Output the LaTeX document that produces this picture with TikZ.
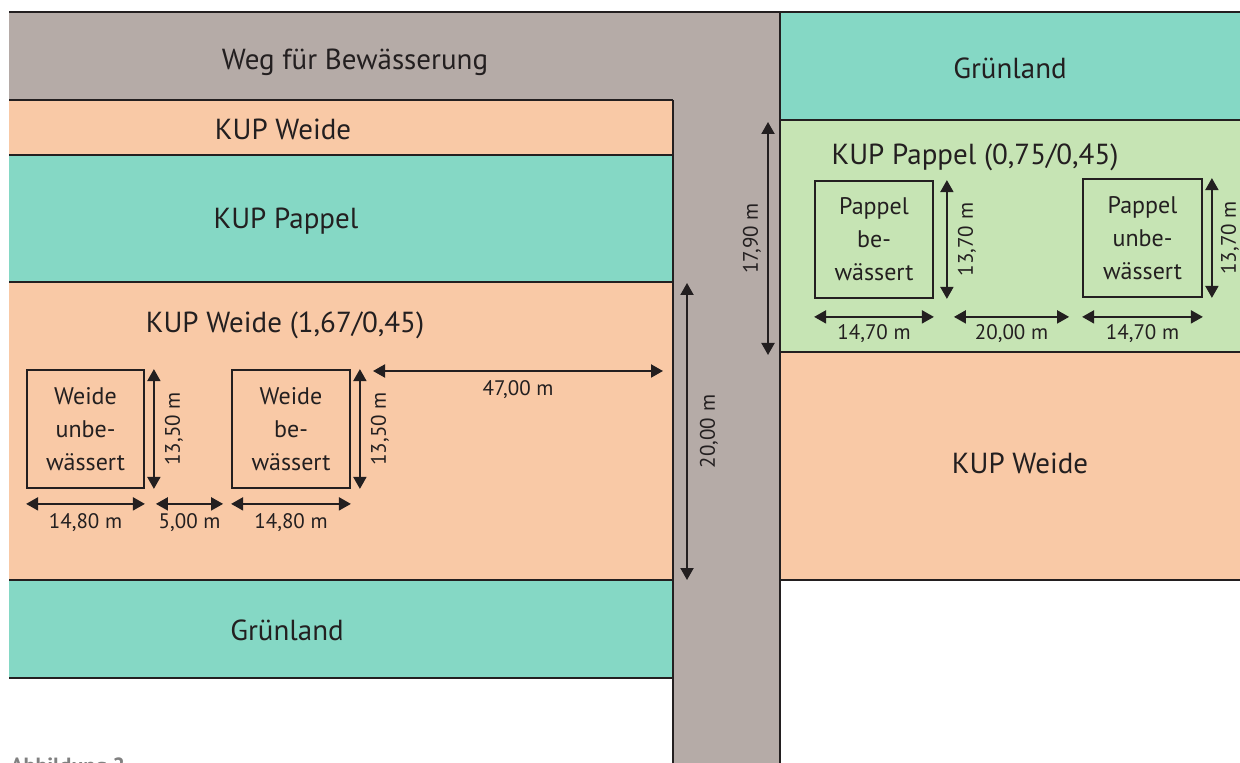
\documentclass[tikz,border=0pt]{standalone}
\usepackage{fontspec}
\setmainfont{PT Sans}
\usetikzlibrary{arrows.meta}

\definecolor{wegfarbe}{HTML}{B5ABA7}
\definecolor{weidefarbe}{HTML}{F9C9A6}
\definecolor{pappelfarbe}{HTML}{85D8C5}
\definecolor{hellgruen}{HTML}{C6E4B4}
\definecolor{strich}{HTML}{231F20}

\tikzset{
  grenze/.style={line width=1.3pt, draw=strich},
  parzelle/.style={draw=strich, line width=0.9pt, align=center, text=strich,
    font=\fontsize{12}{16.5}\selectfont, inner sep=0pt},
  mass/.style={{Triangle[length=6pt,width=6.5pt]}-{Triangle[length=6pt,width=6.5pt]},
    line width=1pt, draw=strich},
  masstext/.style={font=\fontsize{10.5}{12}\selectfont, text=strich, inner sep=1pt},
  flaeche/.style={font=\fontsize{14.5}{17}\selectfont, text=strich},
}

\begin{document}
\begin{tikzpicture}[x=0.5pt,y=-0.5pt]
\useasboundingbox (0,0) rectangle (1240,763);

% Weg
\fill[wegfarbe] (9,12) -- (780,12) -- (780,763) -- (673,763) -- (673,100) -- (9,100) -- cycle;

% Streifen links
\fill[weidefarbe] (9,100) rectangle (673,155);
\fill[pappelfarbe] (9,155) rectangle (673,282);
\fill[weidefarbe] (9,282) rectangle (673,580);
\fill[pappelfarbe] (9,580) rectangle (673,678);

% Streifen rechts
\fill[pappelfarbe] (780,12) rectangle (1240,120);
\fill[hellgruen] (780,120) rectangle (1240,352);
\fill[weidefarbe] (780,352) rectangle (1240,580);

% Grenzen
\draw[grenze] (9,12) -- (1240,12);
\draw[grenze] (673,763) -- (673,100);
\draw[grenze] (780,763) -- (780,12);
\foreach \y in {100,155,282,580,678}
  \draw[grenze] (9,\y) -- (673,\y);
\foreach \y in {120,352,580}
  \draw[grenze] (780,\y) -- (1240,\y);

% Beschriftung
\node[flaeche] (weg) at (355,62) {Weg für Bewässerung};
\node[flaeche] (weide1) at (283,129) {KUP Weide};
\node[flaeche] (pappel1) at (286,221) {KUP Pappel};
\node[flaeche] (weide2) at (285,325) {KUP Weide (1,67/0,45)};
\node[flaeche] (gruen1) at (287,630) {Grünland};
\node[flaeche] (gruen2) at (1010,68) {Grünland};
\node[flaeche] (pappel2) at (975,157) {KUP Pappel (0,75/0,45)};
\node[flaeche] (weide3) at (1020,463) {KUP Weide};

% Versuchsparzellen
\node[parzelle, minimum width=58.5pt, minimum height=59pt] (wu) at (85.5,429) {Weide\\unbe-\\wässert};
\node[parzelle, minimum width=59pt, minimum height=59pt] (wb) at (291,429) {Weide\\be-\\wässert};
\node[parzelle, minimum width=59pt, minimum height=58.5pt] (pb) at (874,239.5) {Pappel\\be-\\wässert};
\node[parzelle, minimum width=59.5pt, minimum height=59pt] (pu) at (1142.5,238) {Pappel\\unbe-\\wässert};

% Masse Weide
\draw[mass] ([xshift=4.5pt]wu.south east) -- ([xshift=4.5pt]wu.north east)
  node[midway, sloped, below=4pt, masstext] {13,50 m};
\draw[mass] ([xshift=4.5pt]wb.south east) -- ([xshift=4.5pt]wb.north east)
  node[midway, sloped, below=4pt, masstext] {13,50 m};
\draw[mass] ([yshift=-7.5pt]wu.south west) -- ([yshift=-7.5pt]wu.south east)
  node[midway, below=3.5pt, masstext] {14,80 m};
\draw[mass] ([xshift=5.5pt,yshift=-7.5pt]wu.south east) -- ([xshift=-4pt,yshift=-7.5pt]wb.south west)
  node[midway, below=3.5pt, masstext] {5,00 m};
\draw[mass] ([yshift=-7.5pt]wb.south west) -- ([yshift=-7.5pt]wb.south east)
  node[midway, below=3.5pt, masstext] {14,80 m};
\draw[mass] (373,371) -- (663,371)
  node[midway, below=3.5pt, masstext] {47,00 m};

% Masse Weg
\draw[mass] (687,580) -- (687,283)
  node[midway, sloped, below=5pt, masstext] {20,00 m};
\draw[mass] (768,355) -- (768,122)
  node[midway, sloped, above=2pt, masstext] {17,90 m};

% Masse Pappel
\draw[mass] ([xshift=6.5pt]pb.south east) -- ([xshift=6.5pt]pb.north east)
  node[midway, sloped, below=4pt, masstext] {13,70 m};
\draw[mass] ([xshift=4.5pt]pu.south east) -- ([xshift=4.5pt]pu.north east)
  node[midway, sloped, below=3pt, masstext] {13,70 m};
\draw[mass] ([yshift=-9pt]pb.south west) -- ([yshift=-9pt]pb.south east)
  node[midway, below=2.5pt, masstext] {14,70 m};
\draw[mass] ([xshift=10pt,yshift=-9pt]pb.south east) -- ([xshift=-6.5pt,yshift=-9.5pt]pu.south west)
  node[midway, below=2.5pt, masstext] {20,00 m};
\draw[mass] ([yshift=-9.5pt]pu.south west) -- ([yshift=-9.5pt]pu.south east)
  node[midway, below=2.5pt, masstext] {14,70 m};

% Unterschrift (abgeschnitten)
\node[anchor=north west, inner sep=0pt, text=gray, font=\bfseries\fontsize{11}{13}\selectfont] (abb) at (10,757) {Abbildung 2};
\end{tikzpicture}
\end{document}
